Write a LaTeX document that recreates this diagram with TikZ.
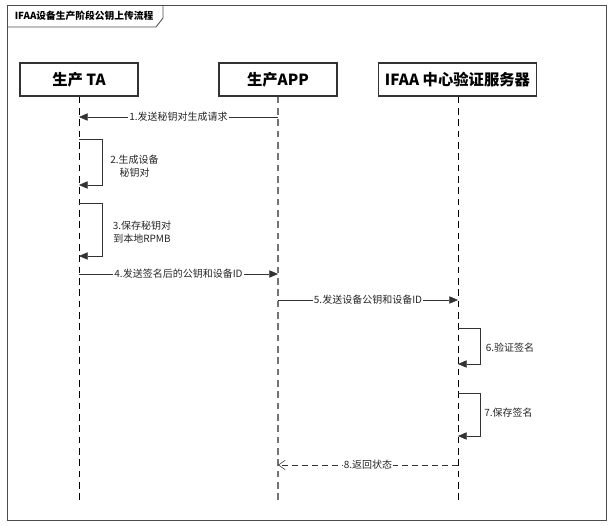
\documentclass[tikz,border=0pt]{standalone}
\usepackage{fontspec}
\usepackage{tikz}
\usetikzlibrary{positioning,arrows.meta}
\newfontfamily\cjk{Noto Sans CJK SC}
\tikzset{headnode/.style={rectangle, draw=black!80, fill=white, thick, minimum height=24.75pt, inner sep=0pt, font=\cjk\bfseries\fontsize{11.5}{13}\selectfont},
framebox/.style={draw=black!70, line width=0.65pt},
titletext/.style={font=\cjk\bfseries\fontsize{7.3}{9}\selectfont, inner sep=0pt},
msglabel/.style={fill=white, inner sep=0.8pt, font=\cjk\fontsize{7.5}{9.75}\selectfont, text=black!85},
noteslabel/.style={inner sep=0pt, align=center, font=\cjk\fontsize{7.5}{9.75}\selectfont, text=black!85},
lifeline/.style={draw=black, dash pattern=on 5pt off 3.5pt},
msg/.style={draw=black!80, -{Triangle[length=6.5pt, width=5.5pt]}},
replymsg/.style={draw=black!80, dash pattern=on 4.5pt off 3pt, -{Straight Barb[length=5pt, width=7pt]}},}
\begin{document}
\begin{tikzpicture}[x=0.75pt, y=-0.75pt]
\useasboundingbox (0,0) rectangle (614,525);
% frame and title
\draw[framebox] (7,5) rectangle (606,520);
\draw[framebox] (7,27) -- (156,27) -- (163,18) -- (163,5);
\node [titletext] (title) at (84,16) {IFAA设备生产阶段公钥上传流程};
% heads
\node [headnode, minimum width=88.5pt] (ta) at (79,79.5) {生产 TA};
\node [headnode, minimum width=88.5pt] (app) at (278,79.5) {生产APP};
\node [headnode, minimum width=119pt] (srv) at (457.5,79.5) {IFAA 中心验证服务器};
% lifelines
\coordinate (taend) at (79,501);
\coordinate (append) at (278,501);
\coordinate (srvend) at (458,501);
\draw[lifeline] (ta) -- (taend);
\draw[lifeline, draw=black!55, line width=0.8pt] (app) -- (append);
\draw[lifeline] (srv.south -| srvend) -- (srvend);
% 1
\coordinate (a1) at (278,117);
\coordinate (t1) at (79,117);
\draw[msg] (a1) -- node[msglabel] (m1) {1.发送秘钥对生成请求} (t1);
% 2
\coordinate (t2) at (79,139);
\coordinate (r2) at (102,185);
\coordinate (b2) at (79,185);
\draw[msg] (t2) -| (r2) -- (b2);
\node [noteslabel] (m2) at (134.5,166.5) {2.生成设备\\秘钥对};
% 3
\coordinate (t3) at (79,203);
\coordinate (r3) at (102,256);
\coordinate (b3) at (79,256);
\draw[msg] (t3) -| (r3) -- (b3);
\node [noteslabel] (m3) at (142,232) {3.保存秘钥对\\到本地RPMB};
% 4
\coordinate (t4) at (79,274);
\coordinate (a4) at (278,274);
\draw[msg] (t4) -- node[msglabel] (m4) {4.发送签名后的公钥和设备ID} (a4);
% 5
\coordinate (a5) at (278,300);
\coordinate (s5) at (458,300);
\draw[msg] (a5) -- node[msglabel] (m5) {5.发送设备公钥和设备ID} (s5);
% 6
\coordinate (s6) at (458,328);
\coordinate (r6) at (480,364);
\coordinate (b6) at (458,364);
\draw[msg] (s6) -| (r6) -- (b6);
\node [noteslabel] (m6) at (510,348) {6.验证签名};
% 7
\coordinate (s7) at (458,393);
\coordinate (r7) at (480,436);
\coordinate (b7) at (458,436);
\draw[msg] (s7) -| (r7) -- (b7);
\node [noteslabel] (m7) at (508.5,413) {7.保存签名};
% 8
\coordinate (s8) at (458,465);
\coordinate (a8) at (278,465);
\draw[replymsg] (s8) -- node[msglabel] (m8) {8.返回状态} (a8);
\end{tikzpicture}
\end{document}
